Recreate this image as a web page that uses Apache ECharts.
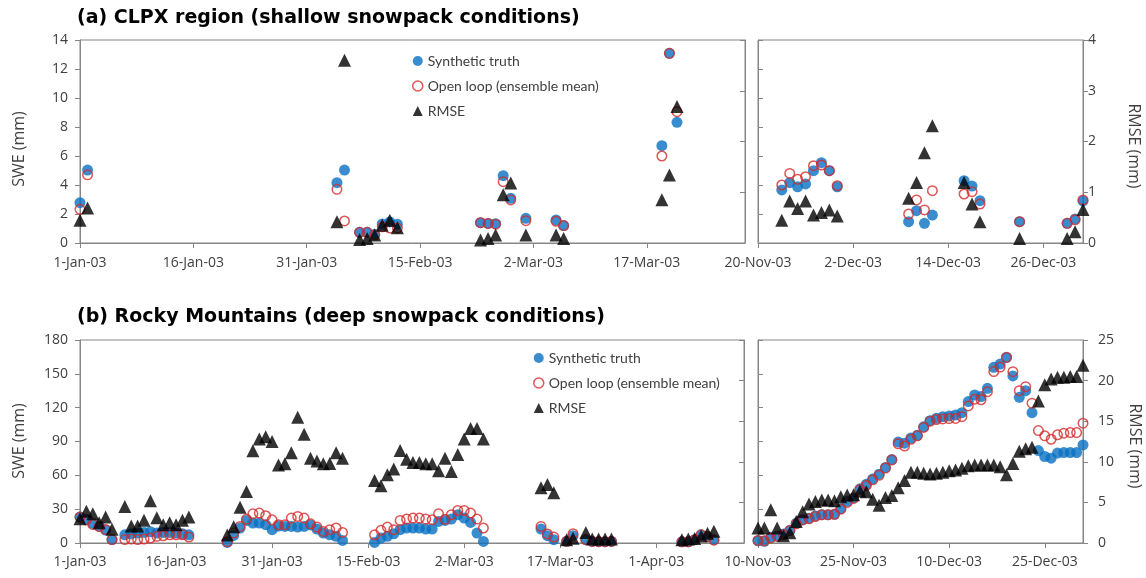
<!DOCTYPE html>
<html>
<head>
<meta charset="utf-8">
<script src="https://cdn.jsdelivr.net/npm/echarts@6/dist/echarts.min.js"></script>
<style>
  html, body { margin: 0; padding: 0; background: #fff; }
  #chart { width: 1146px; height: 578px; }
</style>
</head>
<body>
<div id="chart"></div>
<script>
// ---- CLPX region, Jan–Mar 2003 (days since 1-Jan-03) ----
const clpxJanDays  = [0, 1, 34, 35, 37, 38, 39, 40, 41, 42, 53, 54, 55, 56, 57, 59, 63, 64, 77, 78, 79];
const clpxJanTruth = [2.78, 5.03, 4.16, 5.03, 0.74, 0.74, 0.6, 1.31, 1.45, 1.3, 1.4, 1.35, 1.33, 4.64, 3.08, 1.7, 1.59, 1.2, 6.71, 13.08, 8.32];
const clpxJanOpen  = [2.32, 4.7, 3.7, 1.52, 0.74, 0.74, 0.55, 1.12, 1.03, 1.03, 1.4, 1.35, 1.3, 4.23, 2.97, 1.54, 1.5, 1.2, 6.0, 13.08, 9.06];
const clpxJanRmse  = [0.45, 0.69, 0.42, 3.6, 0.07, 0.09, 0.16, 0.35, 0.45, 0.3, 0.06, 0.09, 0.16, 0.95, 1.18, 0.16, 0.16, 0.09, 0.85, 1.34, 2.69];

// ---- CLPX region, Nov–Dec 2003 (days since 20-Nov-03) ----
const clpxNovDays  = [3, 4, 5, 6, 7, 8, 9, 10, 19, 20, 21, 22, 26, 27, 28, 33, 39, 40, 41];
const clpxNovTruth = [3.66, 4.16, 3.88, 4.07, 4.99, 5.54, 4.99, 3.88, 1.47, 2.23, 1.36, 1.93, 4.3, 3.93, 2.92, 1.47, 1.36, 1.66, 2.9];
const clpxNovOpen  = [4.0, 4.8, 4.39, 4.57, 5.33, 5.38, 4.99, 3.95, 2.0, 2.97, 2.28, 3.61, 3.38, 3.54, 2.69, 1.47, 1.36, 1.6, 2.97];
const clpxNovRmse  = [0.45, 0.83, 0.68, 0.83, 0.55, 0.6, 0.65, 0.53, 0.88, 1.19, 1.78, 2.31, 1.19, 0.77, 0.42, 0.09, 0.09, 0.22, 0.66];

// ---- Rocky Mountains, Jan–Apr 2003 (days since 1-Jan-03) ----
const rockyJanDays = [0, 1, 2, 3, 4, 5, 7, 8, 9, 10, 11, 12, 13, 14, 15, 16, 17,
  23, 24, 25, 26, 27, 28, 29, 30, 31, 32, 33, 34, 35, 36, 37, 38, 39, 40, 41,
  46, 47, 48, 49, 50, 51, 52, 53, 54, 55, 56, 57, 58, 59, 60, 61, 62, 63,
  72, 73, 74, 76, 77, 79, 80, 81, 82, 83, 94, 95, 96, 97, 98, 99];
const rockyJanTruth = [23, 21, 17.5, 15, 11.5, 3, 7.3, 8.2, 8.8, 9.4, 10, 8.8, 9.4, 9.4, 8.8, 8.2, 7.3,
  0.5, 6.7, 13.3, 20, 17.7, 17.7, 16.2, 11.8, 15, 14.7, 14.7, 14.1, 14.7, 16, 12.4, 8.8, 7.3, 5.9, 2.3,
  0.5, 4.4, 5.9, 8.2, 11.8, 13.3, 13.3, 13.3, 12.4, 12.4, 19.1, 20, 21.2, 25.1, 22.1, 18.2, 8.8, 1.4,
  12.4, 6.5, 2.9, 1.5, 6.5, 2.9, 1.4, 1.2, 1.2, 1.4, 1, 1, 2.9, 7.3, 5.9, 2.9];
const rockyJanOpen = [23, 20.5, 16.5, 14.5, 12, 3, 3, 3.5, 3, 3.5, 4.4, 5.9, 6.4, 7.3, 7.3, 7.3, 5.3,
  1, 8.8, 14.7, 21.2, 25.9, 26.5, 24.2, 20.6, 16.2, 16.2, 22.1, 23.6, 22.1, 17, 14.1, 10.3, 11.8, 13.3, 9.4,
  7.3, 11.2, 14.1, 11.8, 20, 21.2, 22.1, 22.1, 21.2, 20.6, 25.9, 21, 25.1, 28.9, 28.9, 26.5, 21.2, 13.3,
  14.7, 8, 5.3, 1.5, 8.2, 2.9, 1.4, 1.2, 1.2, 1.4, 1, 1, 2.9, 7.3, 5.5, 2.5];
const rockyJanRmse = [3.0, 3.9, 3.6, 2.5, 3.2, 1.7, 4.5, 2.1, 2.1, 2.8, 5.2, 3.1, 2.25, 2.5, 2.25, 2.8, 3.2,
  1.0, 2.0, 4.4, 6.35, 11.35, 12.8, 13.1, 12.5, 9.6, 9.75, 11.1, 15.5, 13.4, 10.45, 10.1, 9.75, 9.8, 11.1, 10.45,
  7.7, 7.05, 8.4, 9.1, 11.4, 10.3, 9.9, 9.9, 9.75, 9.75, 8.9, 10.45, 8.8, 10.9, 12.8, 14.1, 14.1, 12.8,
  6.8, 7.2, 6.2, 0.4, 0.6, 1.3, 0.5, 0.5, 0.5, 0.5, 0.4, 0.5, 0.55, 0.85, 1.2, 1.45];

// ---- Rocky Mountains, daily 10-Nov-03 .. 31-Dec-03 ----
const rockyNovTruth = [2, 1.5, 5, 6, 8, 11, 17.5, 20.5, 22, 24, 25.1, 25.1, 25.5, 30.5, 37, 40, 48, 52, 56.7, 61,
  67, 74, 89.5, 88.5, 93, 95.5, 103, 108.5, 110.6, 112, 112.7, 113.6, 115.6, 125.4, 131.3, 129.8, 137.2,
  155.8, 158.7, 164.7, 148.1, 129.2, 135.1, 115.6, 82, 76.7, 75.2, 79.7, 80.2, 80.2, 80.2, 87];
const rockyNovOpen = [2.3, 2.0, 4.5, 6, 7.3, 11.2, 17, 20.6, 21.5, 23.5, 25, 25, 25.5, 30, 36, 39.5, 47.5, 51, 56, 60,
  66.4, 73.7, 87.9, 86, 92, 95, 102.5, 108, 109.5, 110, 110.3, 110.5, 112, 121.5, 127.5, 127, 134.2,
  152, 156, 164.5, 151.9, 135.1, 138.6, 124, 99.7, 95, 92, 95.9, 97.4, 97.9, 97.9, 106.2];
const rockyNovRmse = [1.84, 1.84, 4.1, 1.84, 0.9, 1.25, 2.66, 3.85, 4.8, 5.1, 5.3, 5.3, 5.2, 5.7, 5.9, 5.95, 6.4, 6.3, 5.4, 4.65,
  5.6, 5.85, 6.8, 7.7, 8.7, 8.7, 8.6, 8.5, 8.6, 8.7, 8.9, 9.0, 9.2, 9.5, 9.6, 9.6, 9.6,
  9.6, 9.4, 8.4, 9.8, 11.3, 11.6, 11.8, 17.5, 19.5, 20.2, 20.4, 20.4, 20.5, 20.5, 21.9];

// ---- tick labels ----
const clpxJanTicks  = ['1-Jan-03', '16-Jan-03', '31-Jan-03', '15-Feb-03', '2-Mar-03', '17-Mar-03'];
const clpxNovTicks  = ['20-Nov-03', '2-Dec-03', '14-Dec-03', '26-Dec-03'];
const rockyJanTicks = ['1-Jan-03', '16-Jan-03', '31-Jan-03', '15-Feb-03', '2-Mar-03', '17-Mar-03', '1-Apr-03'];
const rockyNovTicks = ['10-Nov-03', '25-Nov-03', '10-Dec-03', '25-Dec-03'];

const NAMES = ['Synthetic truth', 'Open loop (ensemble mean)', 'RMSE'];

const AX = '#868686';
const LBL = '#404040';
const FONT = 'Open Sans';
const LEGEND_FONT = 'Lato';
const TITLE_FONT = 'DejaVu Sans';
const BLUE = '#0870c2';
const RED = '#d42a2a';

function xAxisFor(gridIndex, max, step, labels, margin) {
  const vals = labels.map((_, i) => i * step);
  return {
    type: 'value', gridIndex, min: 0, max, interval: step,
    axisLine: { show: true, onZero: false, lineStyle: { color: AX, width: 1 } },
    axisTick: { show: true, inside: false, length: 5, lineStyle: { color: AX }, customValues: vals },
    axisLabel: {
      show: true, margin, color: LBL, fontFamily: FONT, fontSize: 14, customValues: vals,
      formatter: v => labels[Math.round(v / step)] || ''
    },
    splitLine: { show: false }
  };
}

function yAxisFor(gridIndex, position, max, step, showLabels, margin) {
  return {
    type: 'value', gridIndex, position, min: 0, max, interval: step,
    axisLine: { show: true, onZero: false, lineStyle: { color: AX, width: 1 } },
    axisTick: { show: true, inside: !showLabels, length: 5, lineStyle: { color: AX } },
    axisLabel: {
      show: showLabels, margin, color: LBL, fontFamily: FONT, fontSize: 14,
      align: position === 'right' ? 'left' : 'right'
    },
    splitLine: { show: false }
  };
}

function pairs(days, vals) { return days.map((d, i) => [d, vals[i]]); }
function daily(vals) { return vals.map((v, i) => [i, v]); }

function panelSeries(g, truth, open, rmse) {
  return [
    { type: 'scatter', name: NAMES[0], xAxisIndex: g, yAxisIndex: 2 * g, data: truth,
      symbol: 'circle', symbolSize: 11, itemStyle: { color: BLUE }, z: 2 },
    { type: 'scatter', name: NAMES[1], xAxisIndex: g, yAxisIndex: 2 * g, data: open,
      symbol: 'circle', symbolSize: 9.5,
      itemStyle: { color: 'rgba(255,255,255,0)', borderColor: RED, borderWidth: 1.5 }, z: 3 },
    { type: 'scatter', name: NAMES[2], xAxisIndex: g, yAxisIndex: 2 * g + 1, data: rmse,
      symbol: 'triangle', symbolSize: 13, itemStyle: { color: '#000' }, z: 4 }
  ];
}

function legendAt(left, top) {
  return {
    left, top, orient: 'vertical', padding: 0, itemWidth: 10, itemHeight: 10, itemGap: 11,
    selectedMode: false,
    textStyle: { fontFamily: LEGEND_FONT, fontSize: 14, color: LBL, lineHeight: 14 },
    data: [
      { name: NAMES[0], icon: 'circle', itemStyle: { color: BLUE } },
      { name: NAMES[1], icon: 'circle', itemStyle: { color: 'rgba(255,255,255,0)', borderColor: RED, borderWidth: 1.5 } },
      { name: NAMES[2], icon: 'triangle', itemStyle: { color: '#000' } }
    ]
  };
}

function axisTitle(text, x, y, rot) {
  return {
    type: 'text', x, y, rotation: rot, silent: true,
    style: { text, fontFamily: FONT, fontSize: 16, fill: LBL, align: 'center', verticalAlign: 'middle' }
  };
}

const gridBox = { show: true, borderColor: AX, borderWidth: 1, backgroundColor: 'transparent' };
const titleStyle = { fontFamily: TITLE_FONT, fontSize: 19, fontWeight: 'bold', color: '#000' };

const option = {
  animation: false,
  backgroundColor: '#fff',
  title: [
    { text: '(a) CLPX region (shallow snowpack conditions)', left: 77, top: 9, padding: 0, textStyle: titleStyle },
    { text: '(b) Rocky Mountains (deep snowpack conditions)', left: 77, top: 308, padding: 0, textStyle: titleStyle }
  ],
  grid: [
    Object.assign({ left: 80, top: 40, width: 665, height: 203 }, gridBox),
    Object.assign({ left: 758, top: 40, width: 325, height: 203 }, gridBox),
    Object.assign({ left: 80, top: 340, width: 664, height: 203 }, gridBox),
    Object.assign({ left: 758, top: 340, width: 325, height: 203 }, gridBox)
  ],
  xAxis: [
    xAxisFor(0, 88, 15, clpxJanTicks, 13),
    xAxisFor(1, 41, 12, clpxNovTicks, 13),
    xAxisFor(2, 103.7, 15, rockyJanTicks, 12),
    xAxisFor(3, 51, 15, rockyNovTicks, 12)
  ],
  yAxis: [
    yAxisFor(0, 'left', 14, 2, true, 12),
    yAxisFor(0, 'right', 4, 1, false, 6),
    yAxisFor(1, 'left', 14, 2, false, 6),
    yAxisFor(1, 'right', 4, 1, true, 5),
    yAxisFor(2, 'left', 180, 30, true, 12),
    yAxisFor(2, 'right', 25, 5, false, 6),
    yAxisFor(3, 'left', 180, 30, false, 6),
    yAxisFor(3, 'right', 25, 5, true, 15)
  ],
  legend: [legendAt(412, 54), legendAt(533, 351)],
  graphic: [
    axisTitle('SWE (mm)', 19, 149, Math.PI / 2),
    axisTitle('RMSE (mm)', 1134, 146, -Math.PI / 2),
    axisTitle('SWE (mm)', 19, 441, Math.PI / 2),
    axisTitle('RMSE (mm)', 1135, 446, -Math.PI / 2)
  ],
  series: [].concat(
    panelSeries(0, pairs(clpxJanDays, clpxJanTruth), pairs(clpxJanDays, clpxJanOpen), pairs(clpxJanDays, clpxJanRmse)),
    panelSeries(1, pairs(clpxNovDays, clpxNovTruth), pairs(clpxNovDays, clpxNovOpen), pairs(clpxNovDays, clpxNovRmse)),
    panelSeries(2, pairs(rockyJanDays, rockyJanTruth), pairs(rockyJanDays, rockyJanOpen), pairs(rockyJanDays, rockyJanRmse)),
    panelSeries(3, daily(rockyNovTruth), daily(rockyNovOpen), daily(rockyNovRmse))
  )
};

const chart = echarts.init(document.getElementById('chart'), null, { renderer: 'canvas' });
chart.setOption(option);
</script>
</body>
</html>
